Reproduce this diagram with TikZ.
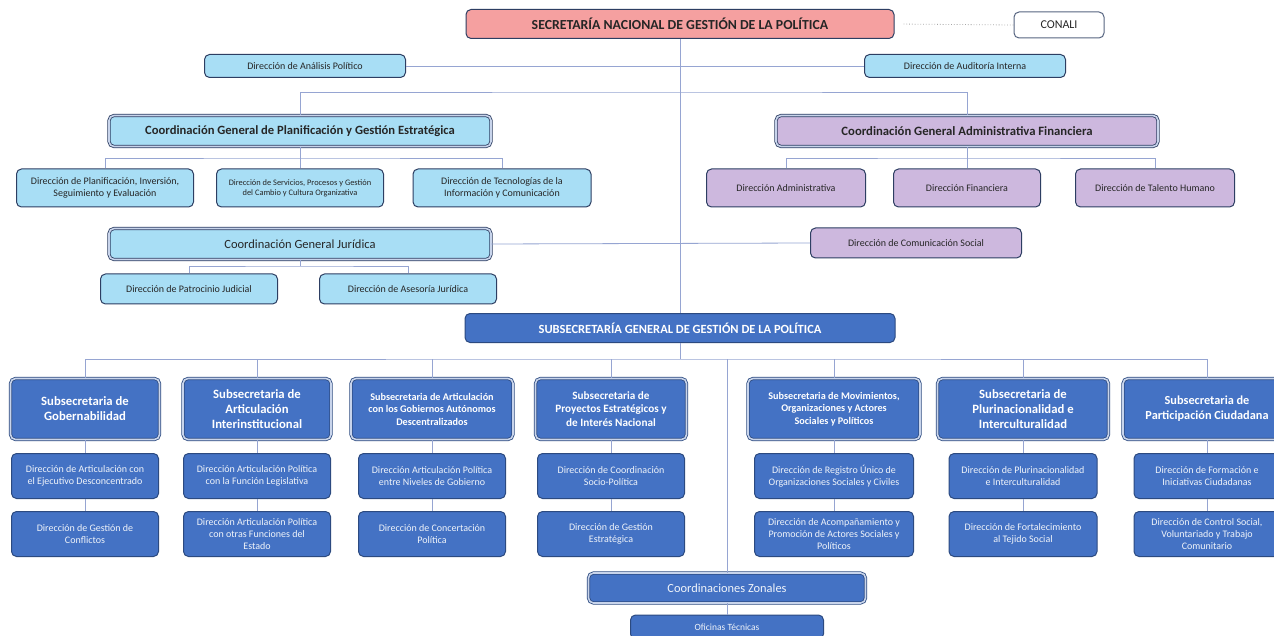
\documentclass[tikz,border=0pt]{standalone}
\usepackage{fontspec}
\setmainfont{Carlito}
\usepackage{tikz}

\definecolor{rosa}{RGB}{245,160,160}
\definecolor{celeste}{RGB}{168,222,245}
\definecolor{lila}{RGB}{205,184,222}
\definecolor{azul}{RGB}{68,114,196}
\definecolor{borde}{RGB}{45,62,98}
\definecolor{bordeazul}{RGB}{44,74,128}
\definecolor{conector}{RGB}{150,165,210}
\definecolor{hueco}{RGB}{200,212,235}

\tikzset{
  caja/.style={rectangle, rounded corners=5pt, draw=borde, line width=1pt, align=center, inner sep=1pt, text=black!85},
  dirceleste/.style={caja, fill=celeste, font=\fontsize{10}{12}\selectfont},
  dirlila/.style={caja, fill=lila, font=\fontsize{10}{12}\selectfont},
  dirazul/.style={caja, fill=azul, draw=bordeazul, text=white!92!azul, font=\fontsize{10}{12}\selectfont},
  doble/.style={double=hueco, double distance=1.6pt, line width=0.8pt},
  enlace/.style={draw=conector, line width=0.8pt},
}

\begin{document}
\begin{tikzpicture}[x=1pt,y=-1pt]
\useasboundingbox (0,0) rectangle (1274,636);
\clip (0,0) rectangle (1274,636);
\fill[white] (0,0) rectangle (1274,636);

% cabeza
\node[caja, fill=rosa, minimum width=428pt, minimum height=29pt, font=\fontsize{13.8}{15}\selectfont\bfseries] (sec) at (680,24) {SECRETARÍA NACIONAL DE GESTIÓN DE LA POLÍTICA};
\node[caja, fill=white, draw=borde!80, minimum width=90pt, minimum height=26pt, font=\fontsize{12}{14}\selectfont] (conali) at (1059,25) {CONALI};
\node[dirceleste, minimum width=201pt, minimum height=23pt] (analisis) at (305,66) {Dirección de Análisis Político};
\node[dirceleste, minimum width=201pt, minimum height=23pt] (auditoria) at (965,66) {Dirección de Auditoría Interna};

% coordinaciones generales
\node[caja, doble, fill=celeste, minimum width=382pt, minimum height=31pt, font=\fontsize{12.6}{14}\selectfont\bfseries] (plan) at (300,131) {Coordinación General de Planificación y Gestión Estratégica};
\node[caja, doble, fill=lila, minimum width=382pt, minimum height=31pt, font=\fontsize{12.7}{14}\selectfont\bfseries] (adm) at (967,131) {Coordinación General Administrativa Financiera};

\node[dirceleste, minimum width=177pt, minimum height=38pt] (dplan) at (105,188) {Dirección de Planificación, Inversión,\\Seguimiento y Evaluación};
\node[dirceleste, minimum width=167pt, minimum height=38pt, font=\fontsize{8.4}{10}\selectfont] (dserv) at (300,188) {Dirección de Servicios, Procesos y Gestión\\del Cambio y Cultura Organizativa};
\node[dirceleste, minimum width=178pt, minimum height=38pt] (dtec) at (502,188) {Dirección de Tecnologías de la\\Información  y Comunicación};

\node[dirlila, minimum width=159pt, minimum height=38pt] (dadm) at (786,188) {Dirección Administrativa};
\node[dirlila, minimum width=147pt, minimum height=38pt] (dfin) at (967,188) {Dirección Financiera};
\node[dirlila, minimum width=159pt, minimum height=38pt] (dtal) at (1155,188) {Dirección de Talento Humano};

\node[caja, doble, fill=celeste, minimum width=382pt, minimum height=31pt, font=\fontsize{12.5}{14}\selectfont] (jur) at (300,244) {Coordinación General Jurídica};
\node[dirlila, minimum width=211pt, minimum height=30pt] (dcom) at (916,243) {Dirección de Comunicación Social};
\node[dirceleste, minimum width=177pt, minimum height=30pt] (dpat) at (189,289) {Dirección de Patrocinio Judicial};
\node[dirceleste, minimum width=177pt, minimum height=30pt] (dase) at (408,289) {Dirección de Asesoría Jurídica};

% subsecretarias
\node[dirazul, text=white, minimum width=430pt, minimum height=29pt, font=\fontsize{12.5}{14}\selectfont\bfseries] (subgen) at (680,328) {SUBSECRETARÍA GENERAL DE GESTIÓN DE LA POLÍTICA};

\node[dirazul, doble, text=white, minimum width=149pt, minimum height=61pt, font=\fontsize{12.7}{15}\selectfont\bfseries] (sub1) at (85,409) {Subsecretaria de\\Gobernabilidad};
\node[dirazul, doble, text=white, minimum width=148pt, minimum height=61pt, font=\fontsize{12.7}{15}\selectfont\bfseries] (sub2) at (257,409) {Subsecretaria de\\Articulación\\Interinstitucional};
\node[dirazul, doble, text=white, minimum width=162pt, minimum height=61pt, font=\fontsize{10.2}{12.5}\selectfont\bfseries] (sub3) at (432,409) {Subsecretaria de Articulación\\con los Gobiernos Autónomos\\Descentralizados};
\node[dirazul, doble, text=white, minimum width=151pt, minimum height=61pt, font=\fontsize{11.2}{13.5}\selectfont\bfseries] (sub4) at (611,409) {Subsecretaria de\\Proyectos Estratégicos y\\de Interés Nacional};
\node[dirazul, doble, text=white, minimum width=172pt, minimum height=61pt, font=\fontsize{10.2}{12.5}\selectfont\bfseries] (sub5) at (834,409) {Subsecretaria de Movimientos,\\Organizaciones y Actores\\Sociales y Políticos};
\node[dirazul, doble, text=white, minimum width=171pt, minimum height=61pt, font=\fontsize{12.7}{15}\selectfont\bfseries] (sub6) at (1023,409) {Subsecretaria de\\Plurinacionalidad e\\Interculturalidad};
\node[dirazul, doble, text=white, minimum width=168pt, minimum height=61pt, font=\fontsize{12.3}{15}\selectfont\bfseries] (sub7) at (1207,409) {Subsecretaria de\\Participación Ciudadana};

% direcciones
\node[dirazul, minimum width=147pt, minimum height=45pt] (dir1a) at (85,476) {Dirección de Articulación con\\el Ejecutivo Desconcentrado};
\node[dirazul, minimum width=147pt, minimum height=45pt] (dir1b) at (85,534) {Dirección de Gestión de\\Conflictos};
\node[dirazul, minimum width=147pt, minimum height=45pt] (dir2a) at (257,476) {Dirección Articulación Política\\con la Función Legislativa};
\node[dirazul, minimum width=147pt, minimum height=45pt] (dir2b) at (257,534) {Dirección Articulación Política\\con otras Funciones del\\Estado};
\node[dirazul, minimum width=147pt, minimum height=45pt] (dir3a) at (432,476) {Dirección Articulación Política\\entre Niveles de Gobierno};
\node[dirazul, minimum width=147pt, minimum height=45pt] (dir3b) at (432,534) {Dirección de Concertación\\Política};
\node[dirazul, minimum width=147pt, minimum height=45pt] (dir4a) at (611,476) {Dirección de Coordinación\\Socio-Política};
\node[dirazul, minimum width=147pt, minimum height=45pt] (dir4b) at (611,534) {Dirección de Gestión\\Estratégica};
\node[dirazul, minimum width=159pt, minimum height=45pt] (dir5a) at (834,476) {Dirección de Registro Único de\\Organizaciones Sociales y Civiles};
\node[dirazul, minimum width=159pt, minimum height=45pt] (dir5b) at (834,534) {Dirección de Acompañamiento y\\Promoción de Actores Sociales y\\Políticos};
\node[dirazul, minimum width=148pt, minimum height=45pt] (dir6a) at (1023,476) {Dirección de Plurinacionalidad\\e Interculturalidad};
\node[dirazul, minimum width=148pt, minimum height=45pt] (dir6b) at (1023,534) {Dirección de Fortalecimiento\\al Tejido Social};
\node[dirazul, minimum width=146pt, minimum height=45pt] (dir7a) at (1207,476) {Dirección de Formación e\\Iniciativas Ciudadanas};
\node[dirazul, minimum width=146pt, minimum height=45pt] (dir7b) at (1207,534) {Dirección de Control Social,\\Voluntariado y Trabajo\\Comunitario};

\node[dirazul, doble, minimum width=277pt, minimum height=30pt, font=\fontsize{12.4}{14}\selectfont] (zonales) at (727,588) {Coordinaciones Zonales};
\node[dirazul, minimum width=193pt, minimum height=24pt, font=\fontsize{9.5}{11}\selectfont] (oficinas) at (727,627) {Oficinas Técnicas};

% lineas
\draw[enlace] (sec.south) -- (subgen.north);
\draw[enlace, draw=gray!70, dotted, shorten <=9pt] (sec.east) -- (conali.west);
\draw[enlace] (analisis.east) -- (auditoria.west);
\coordinate (barra1) at (680,92);
\draw[enlace] (plan.north) |- (barra1) -| (adm.north);
\coordinate (barra2) at (300,158);
\draw[enlace] (plan.south) -- (dserv.north);
\draw[enlace] (dplan.north) |- (barra2) -| (dtec.north);
\coordinate (barra3) at (967,158);
\draw[enlace] (adm.south) -- (dfin.north);
\draw[enlace] (dadm.north) |- (barra3) -| (dtal.north);
\draw[enlace] (jur.east) -- (dcom.west);
\coordinate (barra4) at (300,266);
\draw[enlace] (jur.south) -- (barra4);
\draw[enlace] (dpat.north) |- (barra4) -| (dase.north);

\coordinate (barra5) at (680,359);
\draw[enlace] (subgen.south) -- (barra5);
\draw[enlace] (sub1.north) |- (barra5) -| (sub7.north);
\draw[enlace] (sub2.north) -- (sub2 |- barra5);
\draw[enlace] (sub3.north) -- (sub3 |- barra5);
\draw[enlace] (sub4.north) -- (sub4 |- barra5);
\draw[enlace] (sub5.north) -- (sub5 |- barra5);
\draw[enlace] (sub6.north) -- (sub6 |- barra5);
\draw[enlace] (zonales.north) -- (zonales |- barra5);
\draw[enlace] (zonales.south) -- (oficinas.north);

\draw[enlace] (sub1.south) -- (dir1a.north);
\draw[enlace] (dir1a.south) -- (dir1b.north);
\draw[enlace] (sub2.south) -- (dir2a.north);
\draw[enlace] (dir2a.south) -- (dir2b.north);
\draw[enlace] (sub3.south) -- (dir3a.north);
\draw[enlace] (dir3a.south) -- (dir3b.north);
\draw[enlace] (sub4.south) -- (dir4a.north);
\draw[enlace] (dir4a.south) -- (dir4b.north);
\draw[enlace] (sub5.south) -- (dir5a.north);
\draw[enlace] (dir5a.south) -- (dir5b.north);
\draw[enlace] (sub6.south) -- (dir6a.north);
\draw[enlace] (dir6a.south) -- (dir6b.north);
\draw[enlace] (sub7.south) -- (dir7a.north);
\draw[enlace] (dir7a.south) -- (dir7b.north);
\end{tikzpicture}
\end{document}
